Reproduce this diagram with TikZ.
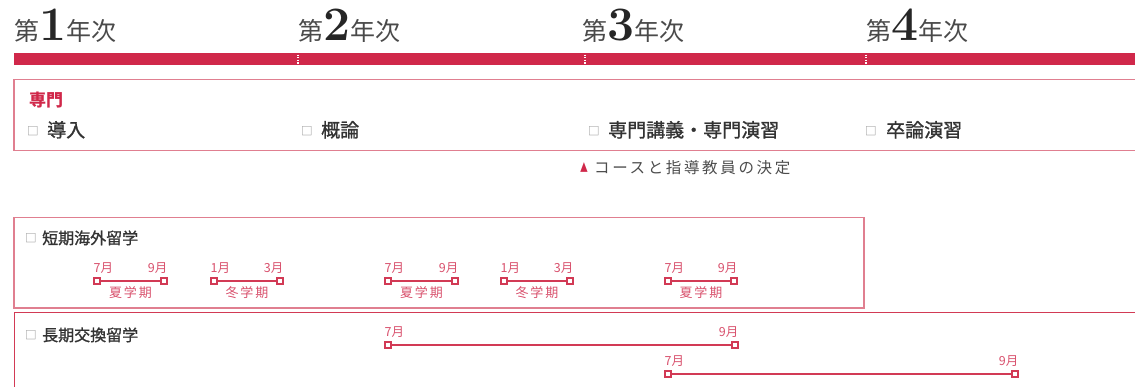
\documentclass[tikz,border=0pt]{standalone}
\usepackage{fontspec}
\newfontfamily\jp{Noto Sans CJK JP}
\newfontfamily\jpm[FakeBold=1.2]{Noto Sans CJK JP}
\definecolor{barred}{HTML}{D0284A}
\definecolor{boxpink}{HTML}{E07F90}
\definecolor{boxred}{HTML}{D23A55}
\definecolor{monpink}{HTML}{D8506C}
\definecolor{txt}{HTML}{333333}
\definecolor{head}{HTML}{4A4A4A}
\definecolor{chk}{HTML}{8A8A8A}
\tikzset{
  yearhead/.style={anchor=base west,inner sep=0pt,text=head},
  item/.style={anchor=base west,inner sep=0pt,text=txt,font=\jpm\fontsize{19}{19}\selectfont},
  smallitem/.style={anchor=base west,inner sep=0pt,text=txt,font=\jpm\fontsize{16}{16}\selectfont},
  chkbox/.style={anchor=base west,inner sep=0pt,text=chk,font=\jp\fontsize{11.5}{11.5}\selectfont},
  mk/.style={draw=boxred,fill=white,line width=1.4pt,minimum size=6pt,inner sep=0pt,rectangle},
  tl/.style={draw=boxred,line width=1.5pt},
  mon/.style={inner sep=0pt,text=monpink,font=\jp\fontsize{12.5}{12.5}\selectfont},
  term/.style={anchor=base,inner sep=0pt,text=monpink,font=\jp\fontsize{13}{13}\selectfont\addfontfeature{LetterSpace=14}},
  frame/.style={line width=1.2pt},
}
\newcommand{\yr}[1]{{\jp\fontsize{25}{25}\selectfont 第}{\fontsize{48}{48}\selectfont\bfseries\color{black!85}#1}{\jp\fontsize{25}{25}\selectfont 年次}}
\newcommand{\seg}[7]{%
  \node[mk] (#1a) at (#2,#4) {};
  \node[mk] (#1b) at (#3,#4) {};
  \draw[tl] (#1a) -- (#1b);
  \node[mon,anchor=base west] (#1la) at ([xshift=-3.5pt,yshift=9pt]#1a.center) {#5};
  \node[mon,anchor=base east] (#1lb) at ([xshift=3.5pt,yshift=9pt]#1b.center) {#6};
  \ifx\relax#7\relax\else
  \node[term] (#1t) at ([yshift=-16pt]$(#1a)!0.5!(#1b)$) {#7};
  \fi
}
\usetikzlibrary{calc}
\begin{document}
\begin{tikzpicture}[x=1pt,y=-1pt]
\useasboundingbox (0,0) rectangle (1135,386);
\clip (0,0) rectangle (1135,386);
% year headings
\node[yearhead] (y1) at (14,40) {\yr{1}};
\node[yearhead] (y2) at (298,40) {\yr{2}};
\node[yearhead] (y3) at (582,40) {\yr{3}};
\node[yearhead] (y4) at (866,40) {\yr{4}};
% red bar
\fill[barred] (14,53) rectangle (1140,65);
\foreach \x in {298,585,866}{
  \draw[white,line width=1.3pt,dash pattern=on 1.3pt off 1.3pt] (\x,54.5) -- (\x,64);
}
% senmon box
\draw[boxpink,frame] (14,79.5) rectangle (1145,150.5);
\node[anchor=base west,inner sep=0pt,text=barred,font=\jp\bfseries\fontsize{17}{17}\selectfont] (sen) at (29,106) {専門};
\node[chkbox] (c1) at (27,135) {□};
\node[item] (i1) at (47,137) {導入};
\node[chkbox] (c2) at (301,135) {□};
\node[item] (i2) at (321,137) {概論};
\node[chkbox] (c3) at (588,135) {□};
\node[item] (i3) at (608,137) {専門講義・専門演習};
\node[chkbox] (c4) at (865,135) {□};
\node[item] (i4) at (886,137) {卒論演習};
\node[anchor=base west,inner sep=0pt,text=barred,font=\jp\fontsize{12}{12}\selectfont,xscale=0.65] (tri) at (580,172.5) {▲};
\node[anchor=base west,inner sep=0pt,font=\jp\fontsize{15.5}{15.5}\selectfont\addfontfeature{LetterSpace=17},text=black!70] (note) at (594,173.5)
  {コースと指導教員の決定};
% short-term box
\draw[boxpink,frame] (14,217.5) rectangle (864,308);
\node[chkbox] (c5) at (25,242) {□};
\node[smallitem] (s1) at (42,244) {短期海外留学};
\seg{p}{97}{164}{281}{7月}{9月}{夏学期}
\seg{q}{214}{280}{281}{1月}{3月}{冬学期}
\seg{r}{388}{455}{281}{7月}{9月}{夏学期}
\seg{s}{504}{570}{281}{1月}{3月}{冬学期}
\seg{t}{668}{734}{281}{7月}{9月}{夏学期}
% long-term box
\draw[boxred,line width=1pt] (14,312.5) rectangle (1145,400);
\node[chkbox] (c6) at (25,339) {□};
\node[smallitem] (s2) at (42,341) {長期交換留学};
\seg{u}{388}{735}{345}{7月}{9月}{}
\seg{v}{668}{1015}{374}{7月}{9月}{}
\end{tikzpicture}
\end{document}
